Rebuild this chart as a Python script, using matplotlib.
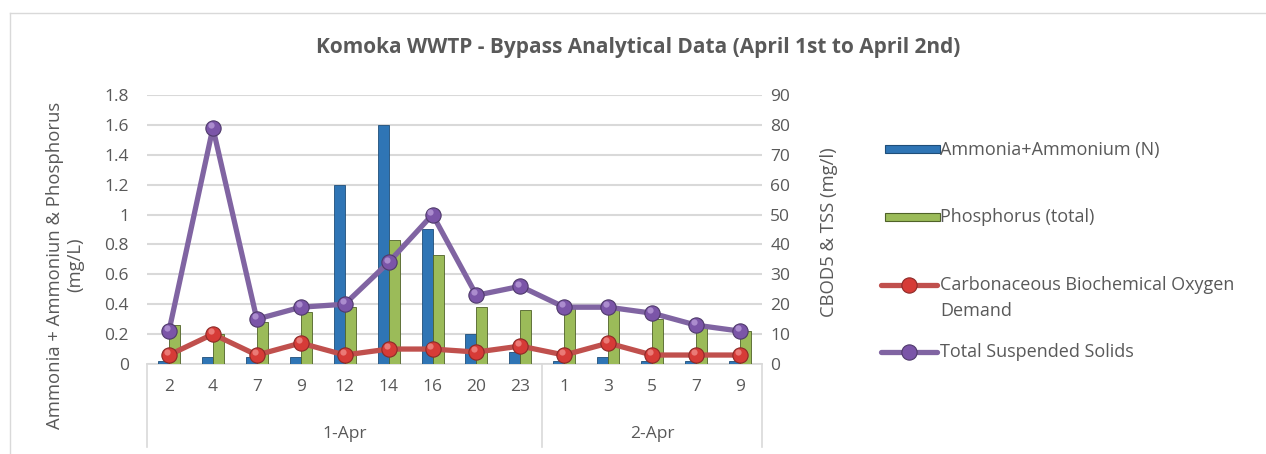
import matplotlib
matplotlib.use("Agg")
import matplotlib.pyplot as plt
import matplotlib.transforms as mtransforms
from matplotlib.lines import Line2D
from matplotlib.patches import Rectangle
import numpy as np

hours = ["2", "4", "7", "9", "12", "14", "16", "20", "23", "1", "3", "5", "7", "9"]
days = ["1-Apr", "2-Apr"]
day_counts = [9, 5]
ammonia = [0.02, 0.05, 0.05, 0.05, 1.2, 1.6, 0.9, 0.2, 0.08, 0.02, 0.05, 0.02, 0.02, 0.02]
phosphorus = [0.26, 0.2, 0.28, 0.35, 0.38, 0.83, 0.73, 0.38, 0.36, 0.38, 0.36, 0.3, 0.26, 0.22]
cbod = [3, 10, 3, 7, 3, 5, 5, 4, 6, 3, 7, 3, 3, 3]
tss = [11, 79, 15, 19, 20, 34, 50, 23, 26, 19, 19, 17, 13, 11]

FONT = ["Open Sans", "DejaVu Sans"]
plt.rcParams['font.family'] = FONT
TXT = "#595959"
GRID = "#d9d9d9"
BLUE, BLUE_E = "#2f75b5", "#1f4e79"
GREEN, GREEN_E = "#9bbb59", "#4f6228"
RED, RED_F, RED_E, RED_H = "#c0504d", "#d63b37", "#8c2a27", "#f08a86"
PUR, PUR_F, PUR_E, PUR_H = "#8064a2", "#7b55a8", "#4f3a6b", "#b89ad8"
TICK_FS = 12.5

W, H = 1266, 454
fig = plt.figure(figsize=(W / 100, H / 100), dpi=100)
ax = fig.add_axes([147 / W, 1 - 364 / H, (762 - 147) / W, (364 - 95) / H])
ax2 = ax.twinx()

x = np.arange(len(hours))
bw = 0.25
ax.bar(x - bw / 2, ammonia, bw, color=BLUE, edgecolor=BLUE_E, linewidth=0.6, zorder=3)
ax.bar(x + bw / 2, phosphorus, bw, color=GREEN, edgecolor=GREEN_E, linewidth=0.6, zorder=3)

ax.set_xlim(-0.5, len(hours) - 0.5)
ax.set_ylim(0, 1.8)
ax.set_yticks(np.arange(0, 1.81, 0.2))
ax.set_yticklabels(["0", "0.2", "0.4", "0.6", "0.8", "1", "1.2", "1.4", "1.6", "1.8"])
ax.yaxis.grid(True, color=GRID, linewidth=1.5, zorder=0)
ax.set_axisbelow(True)
for s in ["top", "right", "left"]:
    ax.spines[s].set_visible(False)
ax.spines["bottom"].set_color(GRID)
ax.spines["bottom"].set_linewidth(1.2)
ax.tick_params(axis="y", length=0, pad=13, labelsize=TICK_FS, labelcolor=TXT)
ax.set_xticks(x)
ax.set_xticklabels(hours)
ax.tick_params(axis="x", length=0, pad=11, labelsize=TICK_FS, labelcolor=TXT)

hl = mtransforms.offset_copy(ax2.transData, fig=fig, x=-1.5, y=2.0, units="points")
for vals, lc, fc, ec, hc in [(cbod, RED, RED_F, RED_E, RED_H), (tss, PUR, PUR_F, PUR_E, PUR_H)]:
    ax2.plot(x, vals, color=lc, linewidth=3.8, marker="o", markersize=11,
             markerfacecolor=fc, markeredgecolor=ec, markeredgewidth=0.8, zorder=4)
    ax2.plot(x, vals, linestyle="none", marker="o", markersize=4.5, markerfacecolor=hc,
             markeredgewidth=0, alpha=0.8, transform=hl, zorder=5)
ax2.set_ylim(0, 90)
ax2.set_yticks(np.arange(0, 91, 10))
for s in ["top", "right", "left", "bottom"]:
    ax2.spines[s].set_visible(False)
ax2.tick_params(axis="y", length=0, pad=6, labelsize=TICK_FS, labelcolor=TXT)

# multi-level category axis
trans = mtransforms.blended_transform_factory(ax.transData, fig.transFigure)
bounds = [-0.5]
for c in day_counts:
    bounds.append(bounds[-1] + c)
for b in bounds:
    fig.add_artist(Line2D([b, b], [1 - 364 / H, 1 - 447 / H], transform=trans, color=GRID, linewidth=1.2))
for i, d in enumerate(days):
    fig.text((bounds[i] + bounds[i + 1]) / 2, 1 - 434 / H, d, transform=trans, ha="center", va="center",
             fontsize=TICK_FS, color=TXT)

fig.text(638 / W, 1 - 47 / H, "Komoka WWTP - Bypass Analytical Data (April 1st to April 2nd)",
         ha="center", va="center", fontsize=15, fontweight="bold", color=TXT)
fig.text(65 / W, 1 - 265 / H, "Ammonia + Ammoniun & Phosphorus\n(mg/L)", rotation=90,
         ha="center", va="center", multialignment="center", fontsize=13.3, color=TXT, linespacing=1.2)
fig.text(829 / W, 1 - 232 / H, "CBOD5 & TSS (mg/l)", rotation=90,
         ha="center", va="center", fontsize=13.3, color=TXT)

# border
fig.add_artist(Line2D([10 / W, 10 / W], [0, 1 - 13 / H], transform=fig.transFigure, color=GRID, linewidth=1))
fig.add_artist(Line2D([10 / W, 1], [1 - 13 / H, 1 - 13 / H], transform=fig.transFigure, color=GRID, linewidth=1))

# manual legend (pixel positions)
def fx(px):
    return px / W

def fy(py):
    return 1 - py / H

LEG_FS = 13
fig.add_artist(Rectangle((fx(885), fy(153)), fx(940) - fx(885), 8 / H, transform=fig.transFigure,
                         facecolor=BLUE, edgecolor=BLUE_E, linewidth=0.8))
fig.text(fx(940), fy(150), "Ammonia+Ammonium (N)", ha="left", va="center", fontsize=LEG_FS, color=TXT)
fig.add_artist(Rectangle((fx(885), fy(221)), fx(940) - fx(885), 8 / H, transform=fig.transFigure,
                         facecolor=GREEN, edgecolor=GREEN_E, linewidth=0.8))
fig.text(fx(940), fy(217), "Phosphorus (total)", ha="left", va="center", fontsize=LEG_FS, color=TXT)
for py, lc, fc, ec in [(285, RED, RED_F, RED_E), (352, PUR, PUR_F, PUR_E)]:
    fig.add_artist(Line2D([fx(881), fx(937)], [fy(py), fy(py)], transform=fig.transFigure, color=lc,
                          linewidth=3.8, solid_capstyle="round"))
    fig.add_artist(Line2D([fx(909)], [fy(py)], transform=fig.transFigure, marker="o", markersize=11,
                          markerfacecolor=fc, markeredgecolor=ec, markeredgewidth=0.8))
fig.text(fx(940), fy(285), "Carbonaceous Biochemical Oxygen", ha="left", va="center", fontsize=LEG_FS, color=TXT)
fig.text(fx(940), fy(311), "Demand", ha="left", va="center", fontsize=LEG_FS, color=TXT)
fig.text(fx(940), fy(352), "Total Suspended Solids", ha="left", va="center", fontsize=LEG_FS, color=TXT)

fig.savefig("out.png", dpi=100)
